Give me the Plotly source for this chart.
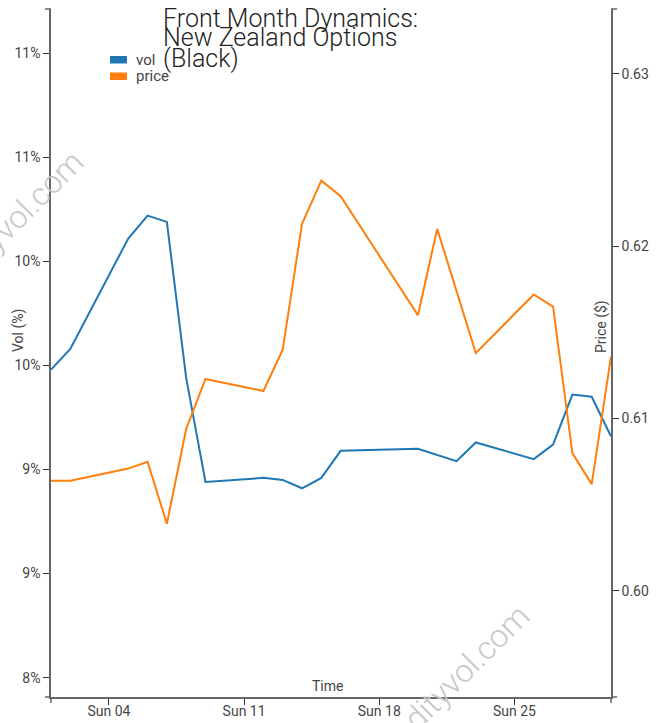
import plotly.graph_objects as go

# Trading days (US calendar, Presidents' Day skipped)
dates = [
    "2024-02-01", "2024-02-02", "2024-02-05", "2024-02-06", "2024-02-07",
    "2024-02-08", "2024-02-09", "2024-02-12", "2024-02-13", "2024-02-14",
    "2024-02-15", "2024-02-16", "2024-02-20", "2024-02-21", "2024-02-22",
    "2024-02-23", "2024-02-26", "2024-02-27", "2024-02-28", "2024-02-29",
    "2024-03-01",
]

# Front month implied vol (%)
vol = [
    9.48, 9.58, 10.11, 10.22, 10.19,
    9.44, 8.94, 8.96, 8.95, 8.91,
    8.96, 9.09, 9.10, None, 9.04,
    9.13, 9.05, 9.12, 9.36, 9.35,
    9.16,
]

# Front month futures price ($)
price = [
    0.6064, 0.6064, 0.6071, 0.6075, 0.6039,
    0.6094, 0.6123, 0.6116, 0.6140, 0.6213,
    0.6238, 0.6229, 0.6160, 0.6210, None,
    0.6138, 0.6172, 0.6165, 0.6080, 0.6062,
    0.6136,
]

tick_dates = ["2024-02-04", "2024-02-11", "2024-02-18", "2024-02-25"]
title_lines = ["Front Month Dynamics:", "New Zealand Options", "(Black)"]
series_names = ["vol", "price"]
series_colors = ["#1f77b4", "#ff7f0e"]

W, H = 658, 723
L, R, T, B = 51, 47, 9, 26
PW, PH = W - L - R, H - T - B


def px(x):
    return (x - L) / PW


def py(y):
    return (H - B - y) / PH


FONT = "Roboto"
AXIS_COLOR = "#666"
TEXT_COLOR = "#444"

fig = go.Figure()
fig.add_trace(go.Scatter(
    x=dates, y=vol, name=series_names[0], mode="lines", connectgaps=True,
    line=dict(color=series_colors[0], width=2), yaxis="y", hoverinfo="skip",
))
fig.add_trace(go.Scatter(
    x=dates, y=price, name=series_names[1], mode="lines", connectgaps=True,
    line=dict(color=series_colors[1], width=2), yaxis="y2", hoverinfo="skip",
))

axis_common = dict(
    showline=True, linecolor=AXIS_COLOR, linewidth=1.5,
    ticks="outside", ticklen=6, tickcolor="#333", tickwidth=1,
    showgrid=False, zeroline=False, automargin=False,
    tickfont=dict(family=FONT, size=14, color=TEXT_COLOR),
)

fig.update_layout(
    width=W, height=H,
    margin=dict(l=L, r=R, t=T, b=B, pad=0, autoexpand=False),
    paper_bgcolor="white", plot_bgcolor="white",
    showlegend=False,
    xaxis=dict(
        type="date", range=["2024-02-01", "2024-03-01"],
        tickvals=tick_dates, tickformat="%a %d", ticklabelstandoff=-6,
        **axis_common,
    ),
    yaxis=dict(
        range=[7.907, 11.213], tick0=8, dtick=0.5,
        tickformat=".0f", ticksuffix="%", **axis_common,
    ),
    yaxis2=dict(
        range=[0.59385, 0.63376], tick0=0.6, dtick=0.01,
        tickformat=".2f", overlaying="y", side="right", **axis_common,
    ),
)

annotations = []

# Watermarks
for cx, cy in [(-18, 252), (428, 706)]:
    annotations.append(dict(
        text="commodityvol.com", x=px(cx), y=py(cy), xref="paper", yref="paper",
        xanchor="center", yanchor="middle", showarrow=False, textangle=-45,
        font=dict(family=FONT, size=32, color="#c8c8c8", weight=300),
    ))

# Title, three tight lines
for i, line in enumerate(title_lines):
    annotations.append(dict(
        text=line, x=px(161), y=py(18 + 20 * i), xref="paper", yref="paper",
        xanchor="left", yanchor="middle", showarrow=False,
        font=dict(family=FONT, size=25, color="#222", weight=300),
    ))

# Legend labels
for i, name in enumerate(series_names):
    annotations.append(dict(
        text=name, x=px(134), y=py(60 + 16 * i), xref="paper", yref="paper",
        xanchor="left", yanchor="middle", showarrow=False,
        font=dict(family=FONT, size=15, color=TEXT_COLOR),
    ))

# Axis titles
annotations.append(dict(
    text="Vol (%)", x=px(18), y=py(331), xref="paper", yref="paper",
    xanchor="center", yanchor="middle", showarrow=False, textangle=-90,
    font=dict(family=FONT, size=14, color=TEXT_COLOR),
))
annotations.append(dict(
    text="Price ($)", x=px(601), y=py(327), xref="paper", yref="paper",
    xanchor="center", yanchor="middle", showarrow=False, textangle=-90,
    font=dict(family=FONT, size=14, color=TEXT_COLOR),
))
annotations.append(dict(
    text="Time", x=px(327), y=py(686), xref="paper", yref="paper",
    xanchor="center", yanchor="middle", showarrow=False,
    font=dict(family=FONT, size=14, color=TEXT_COLOR),
))

shapes = []
# Legend swatches
for i, color in enumerate(series_colors):
    shapes.append(dict(
        type="rect", xref="paper", yref="paper",
        x0=px(110), x1=px(127), y0=py(56 + 16.5 * i), y1=py(63.5 + 16.5 * i),
        fillcolor=color, line=dict(width=0),
    ))

# Outer end ticks of the axes
end_ticks = [
    ((45, 9), (51, 9)), ((45, 697), (51, 697)),
    ((611, 9), (617, 9)), ((611, 697), (617, 697)),
    ((51, 697), (51, 703)), ((611, 697), (611, 703)),
]
for (x0, y0), (x1, y1) in end_ticks:
    shapes.append(dict(
        type="line", xref="paper", yref="paper",
        x0=px(x0), y0=py(y0), x1=px(x1), y1=py(y1),
        line=dict(color=AXIS_COLOR, width=1.5),
    ))

fig.update_layout(annotations=annotations, shapes=shapes)
fig.write_html("out.html")
